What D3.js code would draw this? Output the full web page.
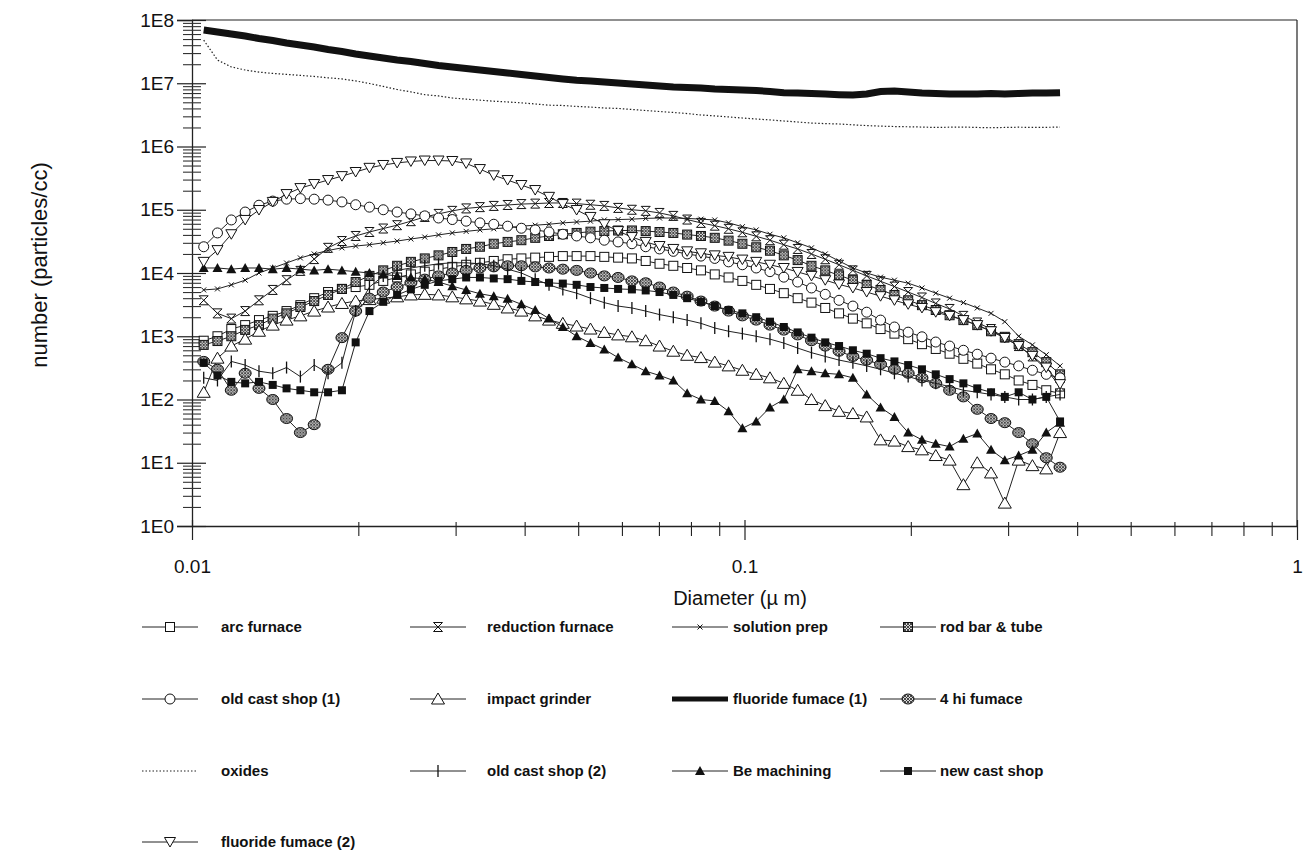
<!DOCTYPE html>
<html>
<head>
<meta charset="utf-8">
<script src="https://cdn.jsdelivr.net/npm/d3@7"></script>
<style>
  body { margin: 0; background: #fff; }
  svg { display: block; }
  text { font-family: "Liberation Sans", Arial, sans-serif; fill: #111; }
</style>
</head>
<body>
<svg id="chart" width="1307" height="854"></svg>
<script>
// Particle diameter channels (µm)
const diameters = [0.0105,0.01112,0.01178,0.01248,0.01322,0.01400,0.01483,0.01571,0.01664,0.01763,
  0.01868,0.01978,0.02095,0.02219,0.02351,0.02490,0.02638,0.02794,0.02959,0.03135,
  0.03320,0.03517,0.03726,0.03946,0.04180,0.04428,0.04690,0.04968,0.05263,0.05575,
  0.05905,0.06255,0.06625,0.07018,0.07433,0.07874,0.08340,0.08834,0.09358,0.09912,
  0.1050,0.1112,0.1178,0.1248,0.1322,0.1400,0.1483,0.1571,0.1664,0.1763,
  0.1868,0.1978,0.2095,0.2219,0.2351,0.2490,0.2638,0.2794,0.2959,0.3135,
  0.3320,0.3517,0.3725];

// Number concentrations (particles/cc) per channel
const arcFurnace = [8.5e2,1.0e3,1.3e3,1.5e3,1.8e3,2.1e3,2.5e3,3.1e3,4.0e3,5.0e3,
  5.6e3,6.0e3,6.5e3,7.5e3,8.5e3,9.5e3,1.05e4,1.15e4,1.25e4,1.35e4,
  1.45e4,1.55e4,1.65e4,1.7e4,1.75e4,1.8e4,1.85e4,1.85e4,1.85e4,1.8e4,
  1.75e4,1.7e4,1.55e4,1.4e4,1.3e4,1.2e4,1.1e4,9.5e3,8.5e3,7.5e3,
  6.5e3,5.6e3,4.8e3,4.0e3,3.4e3,2.8e3,2.3e3,1.9e3,1.6e3,1.3e3,
  1.1e3,9.0e2,7.5e2,6.3e2,5.3e2,4.4e2,3.7e2,3.0e2,2.5e2,2.0e2,
  1.7e2,1.4e2,1.25e2];

const reductionFurnace = [3.7e3,2.3e3,1.9e3,2.5e3,3.7e3,5.4e3,7.7e3,1.08e4,1.66e4,2.5e4,
  3.2e4,3.85e4,4.45e4,5.05e4,5.7e4,6.6e4,7.7e4,8.6e4,9.6e4,1.05e5,
  1.1e5,1.15e5,1.19e5,1.23e5,1.25e5,1.28e5,1.28e5,1.25e5,1.2e5,1.15e5,
  1.07e5,1.0e5,9.6e4,8.9e4,8.0e4,7.0e4,6.2e4,5.6e4,5.0e4,4.4e4,
  3.8e4,3.3e4,2.8e4,2.4e4,2.0e4,1.65e4,1.35e4,1.1e4,9.0e3,7.4e3,
  6.1e3,5.0e3,4.1e3,3.3e3,2.7e3,2.1e3,1.65e3,1.3e3,9.5e2,7.0e2,
  4.8e2,3.0e2,1.6e2];

const solutionPrep = [5.4e3,5.6e3,6.5e3,7.7e3,1.0e4,1.2e4,1.44e4,1.73e4,2.0e4,2.27e4,
  2.5e4,2.67e4,2.8e4,3.0e4,3.2e4,3.45e4,3.7e4,4.0e4,4.3e4,4.55e4,
  4.8e4,5.0e4,5.2e4,5.5e4,5.7e4,5.9e4,6.2e4,6.4e4,6.6e4,6.9e4,
  7.0e4,7.1e4,7.3e4,7.4e4,7.4e4,7.3e4,7.1e4,6.9e4,6.2e4,5.4e4,
  4.8e4,4.1e4,3.6e4,3.0e4,2.5e4,2.0e4,1.55e4,1.2e4,1.0e4,8.6e3,
  7.7e3,6.9e3,5.8e3,4.8e3,4.0e3,3.4e3,2.8e3,2.3e3,1.7e3,1.0e3,
  7.3e2,5.1e2,3.4e2];

const rodBarTube = [7.3e2,8.4e2,1.0e3,1.26e3,1.5e3,1.9e3,2.3e3,2.9e3,3.6e3,4.5e3,
  5.6e3,7.2e3,9.0e3,1.1e4,1.3e4,1.5e4,1.7e4,1.9e4,2.15e4,2.4e4,
  2.6e4,2.9e4,3.1e4,3.3e4,3.6e4,3.85e4,4.1e4,4.3e4,4.5e4,4.6e4,
  4.7e4,4.7e4,4.6e4,4.45e4,4.3e4,4.05e4,3.85e4,3.6e4,3.25e4,2.9e4,
  2.55e4,2.25e4,1.9e4,1.6e4,1.3e4,1.1e4,9.2e3,7.7e3,6.5e3,5.4e3,
  4.5e3,3.7e3,3.1e3,2.6e3,2.15e3,1.8e3,1.5e3,1.2e3,9.8e2,7.5e2,
  5.6e2,3.9e2,2.5e2];

const oldCastShop1 = [2.6e4,4.3e4,6.9e4,9.2e4,1.18e5,1.37e5,1.47e5,1.5e5,1.47e5,1.42e5,
  1.33e5,1.2e5,1.1e5,1.0e5,9.2e4,8.6e4,8.0e4,7.4e4,7.0e4,6.6e4,
  6.2e4,5.9e4,5.5e4,5.1e4,4.8e4,4.45e4,4.1e4,3.85e4,3.6e4,3.3e4,
  3.1e4,2.9e4,2.6e4,2.4e4,2.2e4,2.0e4,1.85e4,1.7e4,1.5e4,1.35e4,
  1.2e4,1.05e4,8.6e3,7.2e3,5.8e3,4.6e3,3.7e3,3.0e3,2.4e3,1.8e3,
  1.4e3,1.16e3,9.8e2,8.1e2,7.0e2,6.0e2,5.2e2,4.5e2,3.9e2,3.4e2,
  2.9e2,2.5e2,2.2e2];

const impactGrinder = [1.3e2,4.5e2,7.0e2,9.0e2,1.2e3,1.5e3,1.8e3,2.1e3,2.5e3,2.9e3,
  3.3e3,3.6e3,3.8e3,4.0e3,4.2e3,4.5e3,4.6e3,4.5e3,4.2e3,3.9e3,
  3.6e3,3.2e3,2.8e3,2.5e3,2.1e3,1.8e3,1.6e3,1.45e3,1.3e3,1.15e3,
  1.05e3,9.8e2,8.5e2,7.0e2,5.8e2,5.0e2,4.6e2,3.9e2,3.4e2,2.9e2,
  2.5e2,2.2e2,1.8e2,1.4e2,1.0e2,8.0e1,6.5e1,6.0e1,5.3e1,2.3e1,
  2.2e1,1.8e1,1.6e1,1.3e1,1.1e1,4.5,1.0e1,6.9,2.3,1.1e1,
  9.0,8.0,3.0e1];

const fluorideFurnace1 = [6.95e7,6.46e7,6.0e7,5.59e7,5.1e7,4.74e7,4.33e7,4.03e7,3.74e7,3.41e7,
  3.18e7,2.9e7,2.69e7,2.5e7,2.33e7,2.21e7,2.05e7,1.91e7,1.81e7,1.71e7,
  1.62e7,1.53e7,1.45e7,1.37e7,1.30e7,1.23e7,1.17e7,1.12e7,1.09e7,1.05e7,
  1.01e7,9.7e6,9.4e6,9.05e6,8.7e6,8.6e6,8.4e6,8.1e6,7.96e6,7.8e6,
  7.7e6,7.4e6,7.1e6,7.0e6,6.9e6,6.76e6,6.6e6,6.5e6,6.76e6,7.4e6,
  7.55e6,7.3e6,7.0e6,6.9e6,6.76e6,6.76e6,6.76e6,6.9e6,6.76e6,6.9e6,
  7.0e6,7.0e6,7.1e6];

const fourHiFurnace = [4.0e2,3.0e2,1.4e2,2.6e2,1.5e2,1.0e2,5.0e1,3.0e1,4.0e1,3.0e2,
  9.5e2,2.5e3,4.0e3,5.0e3,6.0e3,7.0e3,8.0e3,9.0e3,1.0e4,1.1e4,
  1.2e4,1.25e4,1.3e4,1.3e4,1.25e4,1.2e4,1.15e4,1.1e4,1.0e4,9.0e3,
  8.5e3,7.5e3,7.0e3,6.0e3,5.0e3,4.3e3,3.6e3,3.0e3,2.5e3,2.1e3,
  1.8e3,1.5e3,1.25e3,1.05e3,8.5e2,7.0e2,5.8e2,4.8e2,4.2e2,3.6e2,
  3.0e2,2.6e2,2.2e2,1.8e2,1.4e2,1.1e2,7.0e1,5.0e1,4.3e1,3.0e1,
  2.0e1,1.2e1,8.5];

const oxides = [4.8e7,2.33e7,1.81e7,1.62e7,1.5e7,1.43e7,1.38e7,1.33e7,1.28e7,1.22e7,
  1.17e7,1.09e7,9.9e6,8.9e6,7.96e6,7.3e6,6.6e6,6.3e6,5.85e6,5.6e6,
  5.4e6,5.2e6,5.06e6,4.9e6,4.7e6,4.5e6,4.45e6,4.3e6,4.2e6,4.06e6,
  4.0e6,3.85e6,3.7e6,3.57e6,3.45e6,3.32e6,3.15e6,3.05e6,2.93e6,2.82e6,
  2.72e6,2.63e6,2.53e6,2.44e6,2.35e6,2.3e6,2.27e6,2.2e6,2.14e6,2.1e6,
  2.07e6,2.05e6,2.03e6,2.0e6,2.02e6,2.03e6,2.0e6,1.98e6,2.0e6,2.02e6,
  2.0e6,2.01e6,2.03e6];

const oldCastShop2 = [2.2e2,2.0e2,4.0e2,3.5e2,2.8e2,2.6e2,3.2e2,2.3e2,3.5e2,2.6e2,
  3.8e2,2.5e3,6.0e3,9.0e3,1.1e4,1.2e4,1.3e4,1.4e4,1.45e4,1.45e4,
  1.4e4,1.3e4,1.15e4,1.0e4,8.0e3,6.5e3,5.5e3,4.8e3,4.0e3,3.4e3,
  3.0e3,2.8e3,2.5e3,2.2e3,2.0e3,1.8e3,1.6e3,1.35e3,1.2e3,1.1e3,
  1.0e3,9.0e2,7.8e2,6.5e2,5.5e2,4.8e2,4.2e2,3.8e2,3.4e2,3.0e2,
  2.6e2,2.3e2,2.0e2,1.8e2,1.6e2,1.4e2,1.3e2,1.2e2,1.1e2,1.0e2,
  1.0e2,1.1e2,1.2e2];

const beMachining = [1.2e4,1.2e4,1.15e4,1.2e4,1.2e4,1.15e4,1.2e4,1.15e4,1.1e4,1.15e4,
  1.1e4,1.05e4,1.0e4,9.5e3,9.0e3,8.5e3,8.0e3,7.2e3,6.2e3,5.4e3,
  4.7e3,4.3e3,3.9e3,3.2e3,2.6e3,1.9e3,1.4e3,1.0e3,7.8e2,6.2e2,
  4.6e2,3.6e2,2.8e2,2.4e2,2.0e2,1.25e2,1.0e2,9.5e1,6.5e1,3.5e1,
  4.5e1,7.5e1,1.0e2,3.0e2,2.8e2,2.6e2,2.5e2,2.2e2,1.2e2,7.5e1,
  5.3e1,3.0e1,2.3e1,2.0e1,1.8e1,2.4e1,2.9e1,1.6e1,1.1e1,1.3e1,
  1.6e1,3.0e1,4.3e1];

const newCastShop = [3.8e2,2.4e2,1.9e2,1.8e2,1.9e2,1.7e2,1.5e2,1.4e2,1.3e2,1.3e2,
  1.4e2,8.0e2,2.5e3,3.5e3,4.5e3,5.5e3,6.5e3,7.5e3,8.0e3,8.5e3,
  8.5e3,8.2e3,8.0e3,7.5e3,7.2e3,7.0e3,6.8e3,6.5e3,6.0e3,5.8e3,
  5.6e3,5.5e3,5.3e3,5.0e3,4.5e3,4.0e3,3.5e3,3.0e3,2.6e3,2.3e3,
  2.0e3,1.7e3,1.4e3,1.15e3,9.5e2,8.0e2,7.0e2,6.0e2,5.3e2,4.5e2,
  4.0e2,3.5e2,3.0e2,2.5e2,2.1e2,1.8e2,1.5e2,1.3e2,1.1e2,1.3e2,
  1.0e2,1.1e2,4.5e1];

const fluorideFurnace2 = [1.5e4,2.3e4,4.1e4,6.9e4,9.9e4,1.33e5,1.77e5,2.2e5,2.55e5,2.95e5,
  3.4e5,3.95e5,4.6e5,5.1e5,5.5e5,5.8e5,6.0e5,6.0e5,5.9e5,5.4e5,
  4.4e5,3.5e5,2.95e5,2.46e5,2.05e5,1.6e5,1.23e5,9.9e4,7.7e4,5.9e4,
  4.6e4,3.7e4,3.1e4,2.67e4,2.4e4,2.2e4,2.05e4,1.9e4,1.8e4,1.63e4,
  1.5e4,1.35e4,1.2e4,1.04e4,9.0e3,7.7e3,6.6e3,5.8e3,5.0e3,4.3e3,
  3.7e3,3.2e3,2.8e3,2.4e3,2.1e3,1.8e3,1.5e3,1.2e3,9.4e2,7.0e2,
  4.9e2,3.2e2,1.75e2];

// Tick labels
const yTickValues = [1,1e1,1e2,1e3,1e4,1e5,1e6,1e7,1e8];
const yTickLabels = ["1E0","1E1","1E2","1E3","1E4","1E5","1E6","1E7","1E8"];
const xTickValues = [0.01,0.1,1];
const xTickLabels = ["0.01","0.1","1"];

// Series in legend order (row-major, four columns)
const seriesList = [
  { name: "arc furnace",          values: arcFurnace,       marker: "square" },
  { name: "reduction furnace",    values: reductionFurnace, marker: "hourglass" },
  { name: "solution prep",        values: solutionPrep,     marker: "cross" },
  { name: "rod bar & tube",       values: rodBarTube,       marker: "hatchSquare" },
  { name: "old cast shop (1)",    values: oldCastShop1,     marker: "circle" },
  { name: "impact grinder",       values: impactGrinder,    marker: "triUp" },
  { name: "fluoride fumace (1)",  values: fluorideFurnace1, marker: "none", thick: true },
  { name: "4 hi fumace",          values: fourHiFurnace,    marker: "hatchCircle" },
  { name: "oxides",               values: oxides,           marker: "none", dotted: true },
  { name: "old cast shop (2)",    values: oldCastShop2,     marker: "bar" },
  { name: "Be machining",         values: beMachining,      marker: "triFilled" },
  { name: "new cast shop",        values: newCastShop,      marker: "squareFilled" },
  { name: "fluoride fumace (2)",  values: fluorideFurnace2, marker: "triDown" }
];

const svg = d3.select("#chart");

const defs = svg.append("defs");
const hatch = defs.append("pattern").attr("id", "hatch")
  .attr("patternUnits", "userSpaceOnUse").attr("width", 3).attr("height", 3);
hatch.append("rect").attr("width", 3).attr("height", 3).attr("fill", "#d8d8d8");
hatch.append("path").attr("d", "M0,0L3,3M3,0L0,3").attr("stroke", "#222").attr("stroke-width", 0.8);

const x = d3.scaleLog().domain([0.01, 1]).range([192, 1297]);
const y = d3.scaleLog().domain([1, 1e8]).range([526, 20]);

// Minor tick values (2..9 in every decade)
const xMinor = [];
[0.01, 0.1].forEach(b => { for (let k = 2; k <= 9; k++) xMinor.push(b * k); });
const yMinor = [];
for (let e = 0; e < 8; e++) for (let k = 2; k <= 9; k++) yMinor.push(k * Math.pow(10, e));

// Frame (top and right)
svg.append("line").attr("x1", 192).attr("x2", 1297).attr("y1", 20).attr("y2", 20)
  .attr("stroke", "#222").attr("stroke-width", 1.2);
svg.append("line").attr("x1", 1297).attr("x2", 1297).attr("y1", 20).attr("y2", 526)
  .attr("stroke", "#222").attr("stroke-width", 1.2);

// Y axis
const yAxisG = svg.append("g").attr("transform", "translate(192,0)")
  .call(d3.axisLeft(y).tickValues(yTickValues).tickSizeOuter(0).tickSize(15)
    .tickFormat((d, i) => yTickLabels[i]));
yAxisG.selectAll(".tick line").attr("x1", -15).attr("x2", 14).attr("stroke", "#222").attr("stroke-width", 1.2);
yAxisG.selectAll(".tick text").attr("x", -18).attr("font-size", 19)
  .style("font-family", "'Liberation Sans', Arial, sans-serif").attr("fill", "#111");
yAxisG.select(".domain").attr("stroke", "#222").attr("stroke-width", 1.3);
const yMinorG = svg.append("g").attr("transform", "translate(192,0)")
  .call(d3.axisLeft(y).tickValues(yMinor).tickSizeOuter(0).tickFormat(""));
yMinorG.selectAll(".tick line").attr("x1", -9).attr("x2", 9).attr("stroke", "#333").attr("stroke-width", 1.1);
yMinorG.select(".domain").remove();

// X axis
const xAxisG = svg.append("g").attr("transform", "translate(0,526)")
  .call(d3.axisBottom(x).tickValues(xTickValues).tickSizeOuter(0)
    .tickFormat((d, i) => xTickLabels[i]));
xAxisG.selectAll(".tick line").attr("y1", -6).attr("y2", 14).attr("stroke", "#222").attr("stroke-width", 1.2);
xAxisG.selectAll(".tick text").attr("y", 34).attr("font-size", 19)
  .style("font-family", "'Liberation Sans', Arial, sans-serif").attr("fill", "#111");
xAxisG.select(".domain").attr("stroke", "#222").attr("stroke-width", 1.3);
const xMinorG = svg.append("g").attr("transform", "translate(0,526)")
  .call(d3.axisBottom(x).tickValues(xMinor).tickSizeOuter(0).tickFormat(""));
xMinorG.selectAll(".tick line").attr("y1", -4).attr("y2", 10).attr("stroke", "#222").attr("stroke-width", 1.1);
xMinorG.select(".domain").remove();

// Axis titles
svg.append("text").attr("x", 740).attr("y", 605).attr("text-anchor", "middle")
  .attr("font-size", 20).text("Diameter (\u00B5 m)");
svg.append("text").attr("transform", "translate(47,265) rotate(-90)")
  .attr("text-anchor", "middle").attr("font-size", 22).text("number (particles/cc)");

// Marker drawing
function drawMarker(g, type) {
  const black = "#111";
  switch (type) {
    case "square":
      g.append("rect").attr("x", -4.5).attr("y", -4.5).attr("width", 9).attr("height", 9)
        .attr("fill", "#fff").attr("stroke", black).attr("stroke-width", 1);
      break;
    case "hourglass":
      g.append("path").attr("d", "M-4.5,-4.5H4.5L-4.5,4.5H4.5Z")
        .attr("fill", "#fff").attr("stroke", black).attr("stroke-width", 1);
      break;
    case "cross":
      g.append("path").attr("d", "M-2.5,-2.5L2.5,2.5M-2.5,2.5L2.5,-2.5")
        .attr("stroke", black).attr("stroke-width", 1);
      break;
    case "hatchSquare":
      g.append("rect").attr("x", -4.5).attr("y", -4.5).attr("width", 9).attr("height", 9)
        .attr("fill", "url(#hatch)").attr("stroke", black).attr("stroke-width", 1);
      break;
    case "circle":
      g.append("circle").attr("r", 5)
        .attr("fill", "#fff").attr("stroke", black).attr("stroke-width", 1);
      break;
    case "triUp":
      g.append("path").attr("d", "M0,-6L6.5,5L-6.5,5Z")
        .attr("fill", "#fff").attr("stroke", black).attr("stroke-width", 1);
      break;
    case "hatchCircle":
      g.append("ellipse").attr("rx", 6).attr("ry", 5)
        .attr("fill", "url(#hatch)").attr("stroke", black).attr("stroke-width", 1);
      break;
    case "bar":
      g.append("path").attr("d", "M0,-6V6").attr("stroke", black).attr("stroke-width", 1.3);
      break;
    case "triFilled":
      g.append("path").attr("d", "M0,-5L5,4L-5,4Z").attr("fill", black);
      break;
    case "squareFilled":
      g.append("rect").attr("x", -4).attr("y", -4).attr("width", 8).attr("height", 8).attr("fill", black);
      break;
    case "triDown":
      g.append("path").attr("d", "M0,5L5.5,-4.5L-5.5,-4.5Z")
        .attr("fill", "#fff").attr("stroke", black).attr("stroke-width", 1);
      break;
  }
}

function styleLine(sel, s) {
  if (s.thick) sel.attr("stroke", "#111").attr("stroke-width", 7);
  else if (s.dotted) sel.attr("stroke", "#222").attr("stroke-width", 1.2).attr("stroke-dasharray", "1.5,2");
  else sel.attr("stroke", "#222").attr("stroke-width", 1);
}

const plot = svg.append("g");
const line = d3.line().x(d => x(d.d)).y(d => y(d.v));

// Lines-only series first, then marker series on top
const drawOrder = seriesList.filter(s => s.marker === "none").concat(seriesList.filter(s => s.marker !== "none"));
drawOrder.forEach(s => {
  const pts = diameters.map((d, i) => ({ d: d, v: s.values[i] }));
  const g = plot.append("g");
  styleLine(g.append("path").datum(pts).attr("fill", "none").attr("d", line), s);
  if (s.marker !== "none") {
    g.selectAll("g.mk").data(pts).join("g").attr("class", "mk")
      .attr("transform", d => `translate(${x(d.d)},${y(d.v)})`)
      .each(function () { drawMarker(d3.select(this), s.marker); });
  }
});

// Legend: four columns
const colLineX = [142, 410, 672, 880];
const colTextX = [221, 487, 733, 940];
const rowY = [627, 699, 771, 842];
const legend = svg.append("g");
seriesList.forEach((s, i) => {
  const c = i % 4, r = Math.floor(i / 4);
  const g = legend.append("g").attr("transform", `translate(${colLineX[c]},${rowY[r]})`);
  styleLine(g.append("line").attr("x1", 0).attr("x2", 56).attr("y1", 0).attr("y2", 0), s);
  if (s.thick) g.select("line").attr("stroke-width", 5);
  if (s.marker !== "none") drawMarker(g.append("g").attr("transform", "translate(28,0)"), s.marker);
  legend.append("text").attr("x", colTextX[c]).attr("y", rowY[r] + 5)
    .attr("font-size", 15).attr("font-weight", "bold").text(s.name);
});
</script>
</body>
</html>
